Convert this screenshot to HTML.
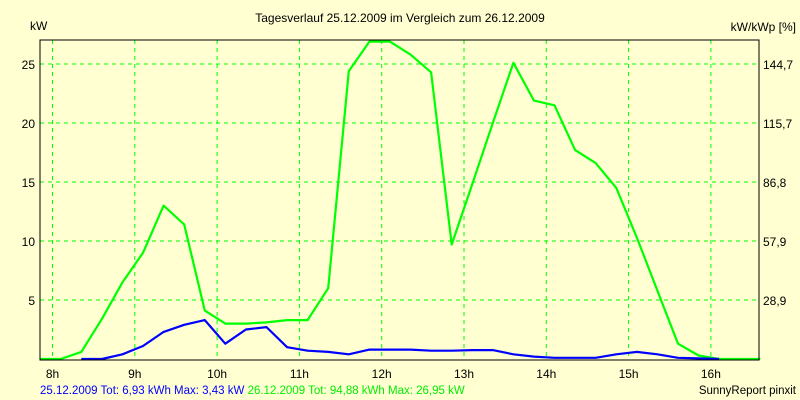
<!DOCTYPE html>
<html><head><meta charset="utf-8"><style>
body{margin:0;background:#ffffd2;}
svg{display:block;font-family:"Liberation Sans",sans-serif;font-size:12px;}
</style></head><body>
<svg width="800" height="400">
<rect x="0" y="0" width="800" height="400" fill="#ffffd2"/>
<text x="400" y="22" text-anchor="middle">Tagesverlauf 25.12.2009 im Vergleich zum 26.12.2009</text>
<text x="30" y="30">kW</text>
<text x="796" y="31" text-anchor="end">kW/kWp [%]</text>
<g id="grid"></g>
<g id="series"></g>
<rect x="40" y="40" width="719" height="320" fill="none" stroke="#000" stroke-width="1"/>
<g id="labels"></g>
<text x="40" y="394" font-size="11.5"><tspan fill="#0000ff">25.12.2009 Tot: 6,93 kWh Max: 3,43 kW</tspan> <tspan fill="#00ee00">26.12.2009 Tot: 94,88 kWh Max: 26,95 kW</tspan></text>
<text x="796" y="394" text-anchor="end" font-size="11.5">SunnyReport pinxit</text>
</svg>
<script>
const hourTicks=[8,9,10,11,12,13,14,15,16];
const yTicks=[5,10,15,20,25];
const rightTickLabels=["28,9","57,9","86,8","115,7","144,7"];
const startTime=7.85, stepH=0.25;
const green=[0,0,0.6,3.4,6.5,9,13,11.4,4.1,3.0,3.0,3.1,3.3,3.3,6,24.4,26.9,26.9,25.8,24.3,9.7,14.8,20,25.1,21.9,21.5,17.7,16.6,14.5,10.3,5.8,1.3,0.3,0,0,0];
const blue=[null,null,0,0,0.4,1.1,2.3,2.9,3.3,1.3,2.5,2.7,1.0,0.7,0.6,0.4,0.8,0.8,0.8,0.7,0.7,0.75,0.75,0.4,0.2,0.1,0.1,0.1,0.4,0.6,0.4,0.1,0.05,0,null,null];
const NS="http://www.w3.org/2000/svg";
const X=t=>52.5+(t-8)*82.3;
const Y=v=>359-v*11.8;
function mk(tag,attrs,parent){const e=document.createElementNS(NS,tag);for(const k in attrs)e.setAttribute(k,attrs[k]);parent.appendChild(e);return e;}
const grid=document.getElementById('grid'),labels=document.getElementById('labels'),series=document.getElementById('series');
hourTicks.forEach(h=>{
 const l=mk('line',{x1:X(h),x2:X(h),y1:40,y2:360,stroke:'#00ff00','stroke-dasharray':'4,4'},grid);
 
 
 const t=mk('text',{x:X(h),y:378,'text-anchor':'middle'},labels);t.textContent=h+'h';
 
 
});
yTicks.forEach((v,i)=>{
 const l=mk('line',{x1:40,x2:759,y1:Y(v),y2:Y(v),stroke:'#00ff00','stroke-dasharray':'4,4'},grid);
 
 
 const t=mk('text',{x:35,y:Y(v)+5,'text-anchor':'end'},labels);t.textContent=v;
 
 
 const r=mk('text',{x:763,y:Y(v)+5},labels);r.textContent=rightTickLabels[i];
 
 
});
function path(arr,color,name){
 let d='',pen=false;
 arr.forEach((v,i)=>{if(v===null){pen=false;return;}d+=(pen?'L':'M')+X(startTime+i*stepH).toFixed(1)+','+Y(v).toFixed(1);pen=true;});
 const p=mk('path',{d:d,fill:'none',stroke:color,'stroke-width':2.2,'stroke-linejoin':'round'},series);
 
 
}
path(green,'#00ff00','series-26-12-2009');
path(blue,'#0000ff','series-25-12-2009');
</script>
</body></html>
